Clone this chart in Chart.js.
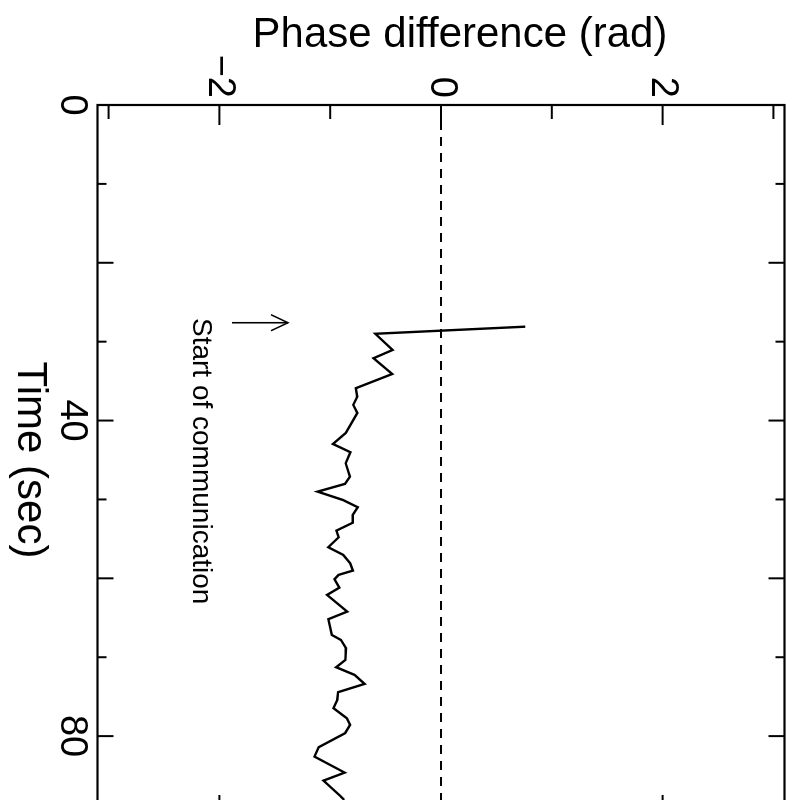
<!DOCTYPE html>
<html>
<head>
<meta charset="utf-8">
<script src="https://cdn.jsdelivr.net/npm/chart.js@4"></script>
<style>
  html, body { margin: 0; padding: 0; background: #fff; overflow: hidden; width: 806px; height: 800px; }
  #wrap { position: absolute; left: 0; top: 0; width: 840px; height: 806px;
          transform-origin: 0 0; transform: translate(806px, 0) rotate(90deg); }
  canvas { display: block; background: #fff; }
</style>
</head>
<body>
<div id="wrap"><canvas id="c" width="840" height="806"></canvas></div>
<script>
// ---- data (time in seconds, phase difference in radians) ----
const timeSec = [28.1, 29.0, 31.05, 32.1, 34.1, 35.9, 36.97, 38.02, 39.04, 41.57, 42.97, 44.02, 45.41, 47.11, 48.03,
  49.01, 50.06, 50.99, 51.96, 52.94, 53.95, 54.79, 56.06, 57.03, 58.09, 59.02, 59.57, 60.11, 61.18, 62.10,
  64.22, 65.18, 67.17, 67.81, 68.86, 70.34, 71.27, 72.24, 73.38, 74.43, 75.41, 76.46, 77.73, 78.58, 79.63,
  81.41, 82.60, 84.63, 85.64, 87.67, 88.09];
const phaseRad = [0.76, -0.593, -0.436, -0.609, -0.440, -0.769, -0.756, -0.792, -0.755, -0.860, -0.975, -0.817, -0.860, -0.822, -0.867,
  -1.114, -0.887, -0.751, -0.796, -0.795, -0.944, -0.923, -1.018, -0.882, -0.820, -0.795, -0.925, -0.961, -0.918, -1.028,
  -0.846, -1.016, -0.986, -0.903, -0.857, -0.863, -0.946, -0.780, -0.689, -0.928, -0.936, -0.971, -0.850, -0.820, -0.865,
  -1.103, -1.142, -0.869, -1.060, -0.903, -0.873];
const zeroLineTime = [0, 90];
const zeroLinePhase = [0, 0];
const timeTicks = [0, 10, 20, 30, 40, 50, 60, 70, 80, 90];
const timeLabelValues = [0, 40, 80];
const timeLabels = ['0', '40', '80'];
const phaseTicks = [-3, -2, -1, 0, 1, 2, 3];
const phaseLabelValues = [-2, 0, 2];
const phaseLabels = ['\u22122', '0', '2'];
const axisTitles = { phase: 'Phase difference (rad)', time: 'Time (sec)' };
const annotation = { text: 'Start of communication', time: 27.0, phase: -2.238, arrowTime: 27.6, arrowFrom: -1.886, arrowTo: -1.381 };

const TICK_FONT = "'Liberation Sans Narrow', 'Arial Narrow', 'Liberation Sans', Arial, sans-serif";
const TEXT_FONT = "'Liberation Sans', Arial, Helvetica, sans-serif";

function labelFor(values, labels, v) {
  for (let i = 0; i < values.length; i++) if (Math.abs(values[i] - v) < 1e-9) return labels[i];
  return null;
}
function zeroPad(s) { s.paddingTop = 0; s.paddingBottom = 0; s.paddingLeft = 0; s.paddingRight = 0; }

const decor = {
  id: 'decor',
  beforeDraw(chart) {
    const ctx = chart.ctx;
    ctx.save(); ctx.fillStyle = '#fff'; ctx.fillRect(0, 0, chart.width, chart.height); ctx.restore();
  },
  afterDraw(chart) {
    const { ctx, chartArea: a, scales: { x, y } } = chart;
    ctx.save();
    ctx.strokeStyle = '#000';
    ctx.fillStyle = '#000';
    ctx.lineCap = 'butt';
    ctx.lineWidth = 2.2;
    ctx.strokeRect(a.left, a.top, a.right - a.left, a.bottom - a.top);
    const line = (x1, y1, x2, y2) => { ctx.beginPath(); ctx.moveTo(x1, y1); ctx.lineTo(x2, y2); ctx.stroke(); };
    ctx.lineWidth = 2;
    timeTicks.forEach(v => {
      if (v <= x.min || v >= x.max) return;
      const px = x.getPixelForValue(v);
      const len = v % 20 === 0 ? 16 : 9;
      line(px, a.bottom, px, a.bottom - len);
      line(px, a.top, px, a.top + len);
    });
    phaseTicks.forEach(v => {
      const py = y.getPixelForValue(v);
      const len = v % 2 === 0 ? 20 : 14;
      line(a.left, py, a.left + len, py);
      line(a.right, py, a.right - len, py);
    });
    // annotation arrow
    const ax = x.getPixelForValue(annotation.arrowTime);
    const ay1 = y.getPixelForValue(annotation.arrowFrom);
    const ay2 = y.getPixelForValue(annotation.arrowTo);
    ctx.lineWidth = 1.6;
    line(ax, ay1, ax, ay2);
    ctx.beginPath();
    ctx.moveTo(ax - 8, ay2 + 17); ctx.lineTo(ax, ay2); ctx.lineTo(ax + 8, ay2 + 17);
    ctx.stroke();
    // annotation text
    ctx.font = '28px ' + TEXT_FONT;
    ctx.textAlign = 'left';
    ctx.textBaseline = 'alphabetic';
    ctx.fillText(annotation.text, x.getPixelForValue(annotation.time), y.getPixelForValue(annotation.phase));
    // axis titles
    ctx.font = '42px ' + TEXT_FONT;
    ctx.textAlign = 'center';
    ctx.textBaseline = 'middle';
    ctx.fillText(axisTitles.time, 460, 776);
    ctx.save();
    ctx.translate(35, 346);
    ctx.rotate(-Math.PI / 2);
    ctx.fillText(axisTitles.phase, 0, 0);
    ctx.restore();
    ctx.restore();
  }
};

new Chart(document.getElementById('c'), {
  type: 'scatter',
  data: {
    datasets: [
      {
        label: 'Phase difference',
        data: timeSec.map((t, i) => ({ x: t, y: phaseRad[i] })),
        showLine: true, borderColor: '#000', borderWidth: 2.4, pointRadius: 0, tension: 0, fill: false
      },
      {
        label: 'Zero',
        data: zeroLineTime.map((t, i) => ({ x: t, y: zeroLinePhase[i] })),
        showLine: true, borderColor: '#000', borderWidth: 2, borderDash: [9, 7], pointRadius: 0, fill: false
      }
    ]
  },
  options: {
    responsive: false,
    animation: false,
    devicePixelRatio: 1,
    layout: { padding: { top: 21.5, right: 25, left: 0, bottom: 0 } },
    plugins: { legend: { display: false }, tooltip: { enabled: false } },
    scales: {
      x: {
        type: 'linear', position: 'bottom', min: 0, max: 90,
        grid: { display: false, drawTicks: false }, border: { display: false },
        ticks: {
          stepSize: 10, autoSkip: false, maxRotation: 0, minRotation: 0, padding: 3, color: '#000',
          font: { family: TICK_FONT, size: 38 },
          callback: v => labelFor(timeLabelValues, timeLabels, v)
        },
        afterBuildTicks: s => { s.ticks = timeTicks.map(v => ({ value: v })); },
        afterFit: s => { s.height = 97.5; zeroPad(s); }
      },
      y: {
        type: 'linear', position: 'left', min: -3.1, max: 3.1,
        grid: { display: false, drawTicks: false }, border: { display: false },
        ticks: {
          stepSize: 1, autoSkip: false, padding: 7, color: '#000',
          font: { family: TICK_FONT, size: 38 },
          callback: v => labelFor(phaseLabelValues, phaseLabels, v)
        },
        afterBuildTicks: s => { s.ticks = phaseTicks.map(v => ({ value: v })); },
        afterFit: s => { s.width = 105; zeroPad(s); }
      }
    }
  },
  plugins: [decor]
});
</script>
</body>
</html>
